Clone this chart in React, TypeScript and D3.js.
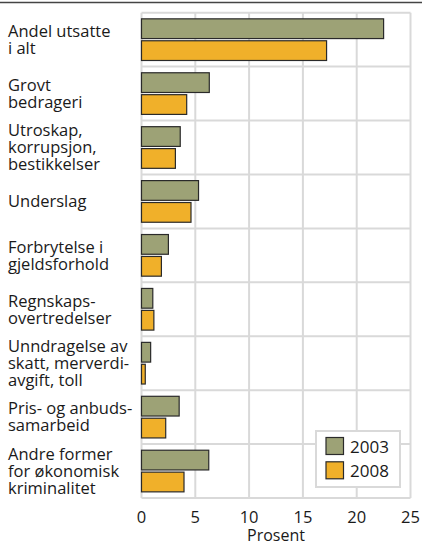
import React, { useEffect } from "react";
import * as d3 from "d3";

const categories = [
  "Andel utsatte\ni alt",
  "Grovt\nbedrageri",
  "Utroskap,\nkorrupsjon,\nbestikkelser",
  "Underslag",
  "Forbrytelse i\ngjeldsforhold",
  "Regnskaps-\novertredelser",
  "Unndragelse av\nskatt, merverdi-\navgift, toll",
  "Pris- og anbuds-\nsamarbeid",
  "Andre former\nfor økonomisk\nkriminalitet",
];
const series = ["2003", "2008"];
const values2003 = [22.5, 6.3, 3.6, 5.3, 2.5, 1.05, 0.85, 3.5, 6.25];
const values2008 = [17.2, 4.2, 3.15, 4.6, 1.85, 1.15, 0.35, 2.25, 3.95];
const xTicks = [0, 5, 10, 15, 20, 25];
const colors = ["#9da276", "#f0b02a"];
const axisTitle = "Prosent";

const W = 422;
const H = 545;
const FONT = "'Open Sans', sans-serif";

export default function App() {
  useEffect(() => {
    document.body.style.margin = "0";
    document.body.style.overflow = "hidden";
    document.documentElement.style.overflow = "hidden";
  }, []);

  const left = 141.5;
  const right = 410.5;
  const top = 12.7;
  const bottom = 498;
  const x = d3.scaleLinear().domain([0, 25]).range([left, right]);
  const y = d3.scaleBand<string>().domain(categories).range([top, bottom]).padding(0);
  const sub = d3
    .scaleBand<string>()
    .domain(series)
    .range([0, y.bandwidth()])
    .paddingInner(0.1)
    .paddingOuter(0.28);
  const data = [values2003, values2008];
  const grid = "#d9d9d9";
  const lineH = 17;

  return (
    <div style={{ position: "fixed", left: 0, top: 0, width: W, height: H, overflow: "hidden" }}>
      <svg width={W} height={H} style={{ display: "block", fontFamily: FONT }}>
        <rect width={W} height={H} fill="#fff" />
        <line x1={0} x2={W} y1={2.5} y2={2.5} stroke="#444" strokeWidth={1.6} />
        {xTicks.map((t) => (
          <line key={"v" + t} x1={x(t)} x2={x(t)} y1={top} y2={bottom} stroke={grid} strokeWidth={2} />
        ))}
        {[...categories.map((c) => y(c)!), bottom].map((yy, i) => (
          <line key={"h" + i} x1={left} x2={right} y1={yy} y2={yy} stroke={grid} strokeWidth={2} />
        ))}
        {categories.map((c, ci) =>
          series.map((s, si) => (
            <rect
              key={c + s}
              x={x(0)}
              y={y(c)! + sub(s)!}
              width={x(data[si][ci]) - x(0)}
              height={sub.bandwidth()}
              fill={colors[si]}
              stroke="#2a2a2a"
              strokeWidth={1.2}
            />
          ))
        )}
        {categories.map((c) => {
          const lines = c.split("\n");
          const cy = y(c)! + y.bandwidth() / 2;
          return (
            <text key={"l" + c} x={8} fontSize={16.5} fill="#1a1a1a">
              {lines.map((ln, i) => (
                <tspan key={i} x={8} y={cy + (i - (lines.length - 1) / 2) * lineH} dy="0.35em">
                  {ln}
                </tspan>
              ))}
            </text>
          );
        })}
        {xTicks.map((t) => (
          <text key={"t" + t} x={x(t)} y={523} textAnchor="middle" fontSize={16.5} fill="#1a1a1a">
            {t}
          </text>
        ))}
        <text x={(left + right) / 2} y={540.5} textAnchor="middle" fontSize={16} fill="#1a1a1a">
          {axisTitle}
        </text>
        <rect x={316} y={431} width={84} height={56} fill="#fff" stroke={grid} strokeWidth={2} />
        {series.map((s, i) => (
          <g key={"lg" + s}>
            <rect
              x={326}
              y={437.5 + i * 24.3}
              width={17.5}
              height={17}
              fill={colors[i]}
              stroke="#2a2a2a"
              strokeWidth={1.2}
            />
            <text x={350} y={452.5 + i * 24.3} fontSize={17} fill="#1a1a1a">
              {s}
            </text>
          </g>
        ))}
      </svg>
    </div>
  );
}
